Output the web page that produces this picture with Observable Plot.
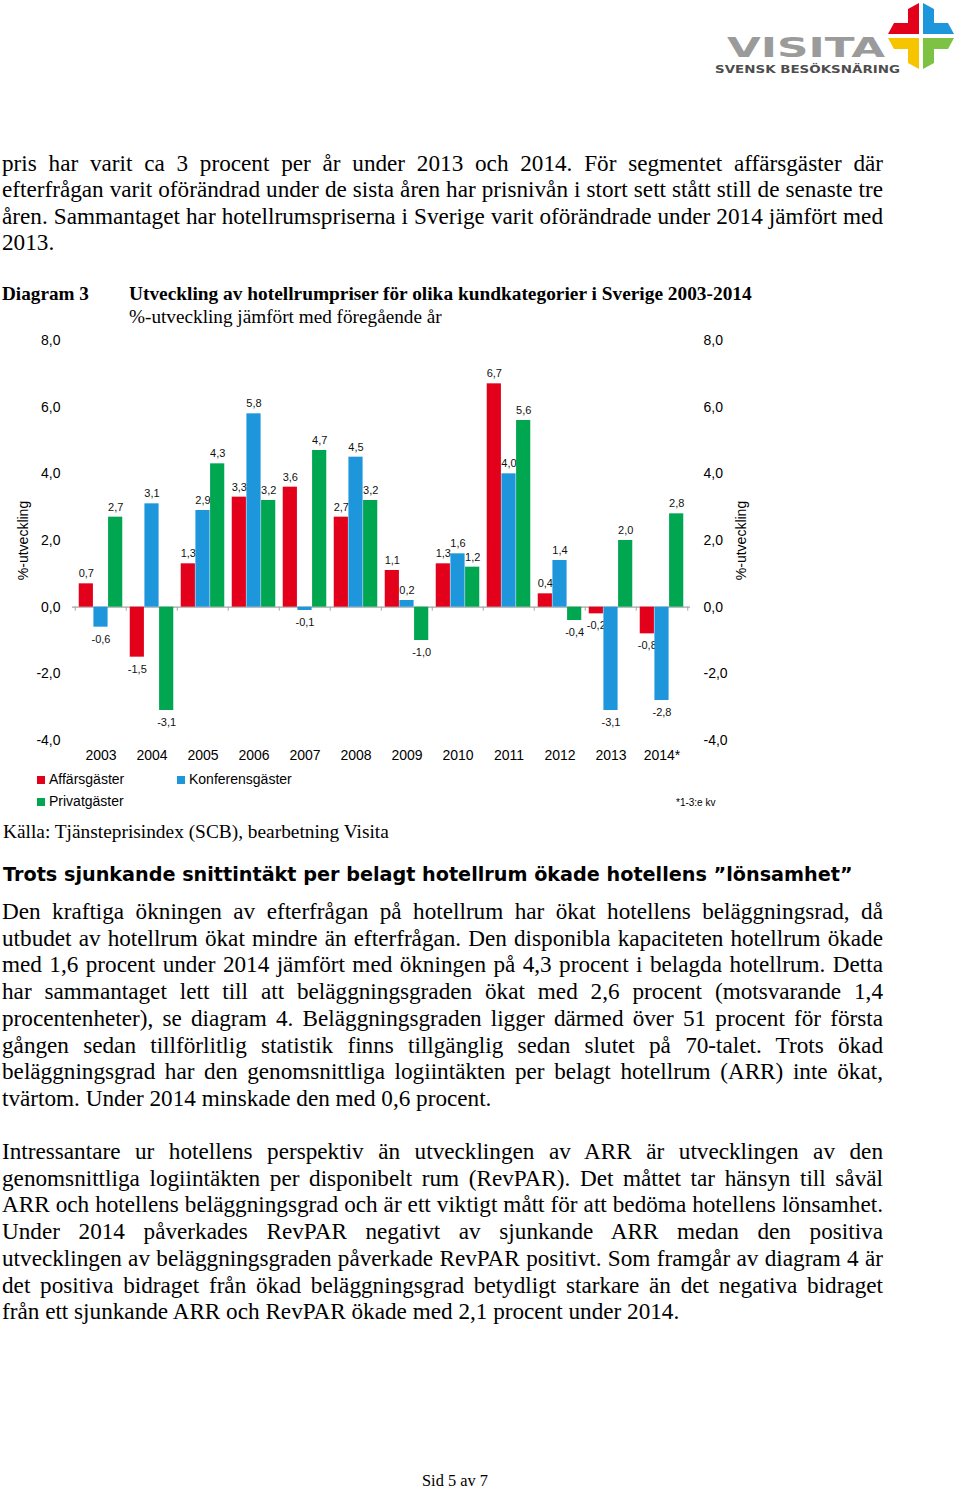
<!DOCTYPE html>
<html><head><meta charset="utf-8">
<script src="https://cdn.jsdelivr.net/npm/d3@7"></script>
<script src="https://cdn.jsdelivr.net/npm/@observablehq/plot@0.6"></script>
<style>
html,body{margin:0;padding:0;background:#fff;}
body{width:960px;height:1491px;position:relative;overflow:hidden;font-family:"Liberation Serif","Times New Roman",serif;color:#000;}
.abs{position:absolute;white-space:nowrap;line-height:28px;}
.line{position:absolute;left:2px;white-space:nowrap;line-height:28px;}
#chart{position:absolute;left:0;top:330px;}
.leg{position:absolute;font-family:"Liberation Sans",Arial,sans-serif;font-size:14px;line-height:16px;white-space:nowrap;}
.sw{display:inline-block;width:8px;height:8px;margin-right:4px;vertical-align:0px;}
</style></head><body>
<svg id="logo" style="position:absolute;left:0;top:0" width="960" height="80">
  <text x="727" y="57" font-family="DejaVu Sans" font-weight="bold" font-size="26" fill="#9b9b9b" textLength="158" lengthAdjust="spacingAndGlyphs">VISITA</text>
  <text x="715" y="73" font-family="DejaVu Sans" font-weight="bold" font-size="10" fill="#4d4d4d" textLength="185" lengthAdjust="spacingAndGlyphs">SVENSK BESÖKSNÄRING</text>
  <g transform="translate(921,36)">
    <polygon points="-2,-2 -2,-33 -13,-27 -13,-13 -27,-13 -33,-2" fill="#e2001a"/>
    <polygon points="2,-2 2,-33 13,-27 13,-13 27,-13 33,-2" fill="#1e96dc"/>
    <polygon points="-2,2 -2,33 -13,27 -13,13 -27,13 -33,2" fill="#f6c500"/>
    <polygon points="2,2 2,33 13,27 13,13 27,13 33,2" fill="#7dc242"/>
  </g>
</svg>
<div id="chart"></div>
<script>
// ---- data ----
const years = ["2003","2004","2005","2006","2007","2008","2009","2010","2011","2012","2013","2014*"];
const affarsgaster    = [0.7, -1.5, 1.3, 3.3, 3.6, 2.7, 1.1, 1.3, 6.7, 0.4, -0.2, -0.8];
const konferensgaster = [-0.6, 3.1, 2.9, 5.8, -0.1, 4.5, 0.2, 1.6, 4.0, 1.4, -3.1, -2.8];
const privatgaster    = [2.7, -3.1, 4.3, 3.2, 4.7, 3.2, -1.0, 1.2, 5.6, -0.4, 2.0, 2.8];
const seriesNames = ["Affärsgäster", "Konferensgäster", "Privatgäster"];
const seriesColors = ["#e2001a", "#1e96dc", "#00a650"];
const yTicks = [-4, -2, 0, 2, 4, 6, 8];
const yLabel = "%-utveckling";
const footnote = "*1-3:e kv";

// ---- chart ----
const W = 960, H = 440, ML = 72, MR = 270, MT = 10, MB = 30;
const step = (W - ML - MR) / years.length;
const barW = step * 0.285;
const inset = (step - barW) / 2;
const fmt = v => v.toFixed(1).replace(".", ",");
const seriesValues = [affarsgaster, konferensgaster, privatgaster];

const marks = [
  Plot.ruleY([0], {stroke: "#a6a6a6", strokeWidth: 1.2}),
  Plot.ruleX(years, {x: d => d, y1: 0, y2: -0.12, dx: -step / 2, stroke: "#a6a6a6"}),
  Plot.ruleX(years.slice(-1), {x: d => d, y1: 0, y2: -0.12, dx: step / 2, stroke: "#a6a6a6"})
];
seriesValues.forEach((vals, i) => {
  const rows = years.map((y, j) => ({year: y, value: vals[j]}));
  const dx = (i - 1) * barW;
  marks.push(Plot.barY(rows, {x: "year", y: "value", fill: seriesColors[i], dx, insetLeft: inset, insetRight: inset}));
  marks.push(Plot.text(rows.filter(d => d.value >= 0), {x: "year", y: "value", text: d => fmt(d.value), dx, dy: -10, fontSize: 11, fill: "#111"}));
  marks.push(Plot.text(rows.filter(d => d.value < 0), {x: "year", y: "value", text: d => fmt(d.value), dx, dy: 12, fontSize: 11, fill: "#111"}));
});
marks.push(
  Plot.axisY(yTicks, {anchor: "left", tickSize: 0, tickPadding: 12, tickFormat: fmt, fontSize: 14, label: yLabel, labelAnchor: "center", labelOffset: 54, labelArrow: "none"}),
  Plot.axisY(yTicks, {anchor: "right", tickSize: 0, tickPadding: 13, tickFormat: fmt, fontSize: 14, label: yLabel, labelAnchor: "center", labelOffset: 55, labelArrow: "none"}),
  Plot.axisX({tickSize: 0, tickPadding: 10, fontSize: 14, label: null})
);

const chart = Plot.plot({
  width: W, height: H,
  marginLeft: ML, marginRight: MR, marginTop: MT, marginBottom: MB,
  x: {type: "band", domain: years, padding: 0},
  y: {domain: [-4, 8]},
  style: {fontFamily: "Liberation Sans, Arial, sans-serif", fontSize: "14px", color: "#000", background: "transparent"},
  marks
});
document.getElementById("chart").appendChild(chart);

// ---- legend ----
function addDiv(html, cls, left, center, lh) {
  const d = document.createElement("div");
  d.className = cls;
  d.innerHTML = html;
  d.style.left = left + "px";
  d.style.top = (center - lh / 2) + "px";
  document.body.appendChild(d);
  return d;
}
addDiv(`<span class="sw" style="background:${seriesColors[0]}"></span>${seriesNames[0]}`, "leg", 37, 779, 16);
addDiv(`<span class="sw" style="background:${seriesColors[1]}"></span>${seriesNames[1]}`, "leg", 177, 779, 16);
addDiv(`<span class="sw" style="background:${seriesColors[2]}"></span>${seriesNames[2]}`, "leg", 37, 801, 16);
const fn = addDiv(footnote, "leg", 676, 802, 14); fn.style.fontSize = "10px";

// ---- page text ----
function fit(el, target) {
  const w = el.getBoundingClientRect().width;
  const fs = parseFloat(getComputedStyle(el).fontSize);
  el.style.fontSize = (fs * target / w) + "px";
}
function single(text, left, center, width, style) {
  const d = addDiv("", "abs", left, center, 28);
  d.textContent = text;
  Object.assign(d.style, style || {});
  fit(d, width);
  return d;
}
single("Diagram 3", 2, 294, 87, {fontWeight: "bold", fontSize: "20px"});
single("Utveckling av hotellrumpriser för olika kundkategorier i Sverige 2003-2014", 129, 294, 623, {fontWeight: "bold", fontSize: "20px"});
single("%-utveckling jämfört med föregående år", 129, 317, 313, {fontSize: "20px"});
single("Källa: Tjänsteprisindex (SCB), bearbetning Visita", 3, 832, 386, {fontSize: "18px"});
single("Trots sjunkande snittintäkt per belagt hotellrum ökade hotellens ”lönsamhet”", 3, 875, 850, {fontFamily: "'DejaVu Sans', sans-serif", fontWeight: "bold", fontSize: "20px"});
single("Sid 5 av 7", 422, 1481, 66, {fontSize: "15px"});

const para1 = [
  "pris har varit ca 3 procent per år under 2013 och 2014. För segmentet affärsgäster där",
  "efterfrågan varit oförändrad under de sista åren har prisnivån i stort sett stått still de senaste tre",
  "åren. Sammantaget har hotellrumspriserna i Sverige varit oförändrade under 2014 jämfört med",
  "2013."
];
const para2 = [
  "Den kraftiga ökningen av efterfrågan på hotellrum har ökat hotellens beläggningsrad, då",
  "utbudet av hotellrum ökat mindre än efterfrågan. Den disponibla kapaciteten hotellrum ökade",
  "med 1,6 procent under 2014 jämfört med ökningen på 4,3 procent i belagda hotellrum. Detta",
  "har sammantaget lett till att beläggningsgraden ökat med 2,6 procent (motsvarande 1,4",
  "procentenheter), se diagram 4. Beläggningsgraden ligger därmed över 51 procent för första",
  "gången sedan tillförlitlig statistik finns tillgänglig sedan slutet på 70-talet. Trots ökad",
  "beläggningsgrad har den genomsnittliga logiintäkten per belagt hotellrum (ARR) inte ökat,",
  "tvärtom. Under 2014 minskade den med 0,6 procent."
];
const para3 = [
  "Intressantare ur hotellens perspektiv än utvecklingen av ARR är utvecklingen av den",
  "genomsnittliga logiintäkten per disponibelt rum (RevPAR). Det måttet tar hänsyn till såväl",
  "ARR och hotellens beläggningsgrad och är ett viktigt mått för att bedöma hotellens lönsamhet.",
  "Under 2014 påverkades RevPAR negativt av sjunkande ARR medan den positiva",
  "utvecklingen av beläggningsgraden påverkade RevPAR positivt. Som framgår av diagram 4 är",
  "det positiva bidraget från ökad beläggningsgrad betydligt starkare än det negativa bidraget",
  "från ett sjunkande ARR och RevPAR ökade med 2,1 procent under 2014."
];
// calibrate body font size
const meas = addDiv("", "abs", 0, -200, 28);
meas.style.fontSize = "100px";
meas.textContent = para3[2];
const bodyFs = 100 * 879 / meas.getBoundingClientRect().width;
meas.remove();
const TEXTW = 881;
function para(lines, firstCenter, lstep) {
  lines.forEach((t, i) => {
    const d = addDiv("", "line", 2, firstCenter + i * lstep, 28);
    d.textContent = t;
    d.style.fontSize = bodyFs + "px";
    if (i < lines.length - 1) {
      const w = d.getBoundingClientRect().width;
      const n = (t.match(/ /g) || []).length;
      if (n) d.style.wordSpacing = ((TEXTW - w) / n) + "px";
    }
  });
}
para(para1, 163, 26.4);
para(para2, 911, 26.7);
para(para3, 1151, 26.7);
</script>
</body></html>
